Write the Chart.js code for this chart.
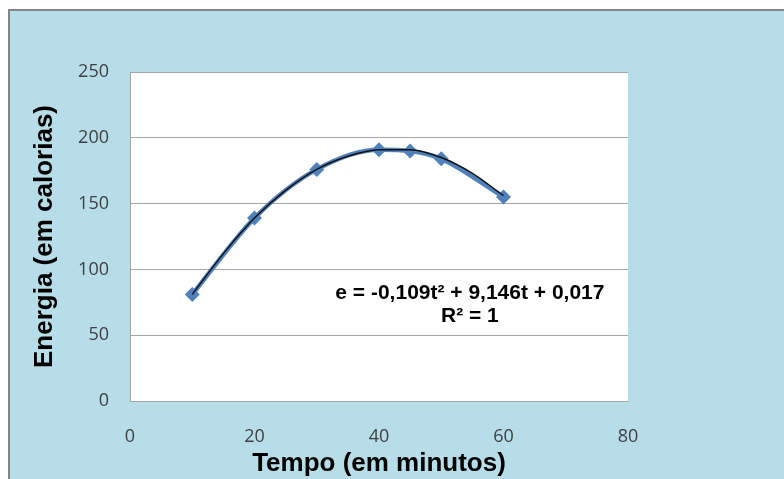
<!DOCTYPE html>
<html>
<head>
<meta charset="utf-8">
<script src="https://cdn.jsdelivr.net/npm/chart.js@4"></script>
<style>
  html, body { margin: 0; padding: 0; background: #ffffff; }
  #wrap { width: 784px; height: 479px; }
</style>
</head>
<body>
<div id="wrap"><canvas id="energy-graph" width="784" height="479"></canvas></div>
<script>
const energyGraph = document.querySelector("#energy-graph");

// measured points (tempo in minutes, energia in calories)
const tempo = [10, 20, 30, 40, 45, 50, 60];
const energia = [81, 139, 176, 191, 190, 184, 155];

// polynomial trendline
const trendTempo = [10, 15, 20, 25, 30, 35, 40, 45, 50, 55, 60];
const trendEnergia = [81, 112, 139, 160, 176, 186, 191, 191, 185, 173, 156];

const xTicks = [0, 20, 40, 60, 80];
const yTicks = [0, 50, 100, 150, 200, 250];

const equationLines = ["e = -0,109t² + 9,146t + 0,017", "R² = 1"];

const blue = "#4f81bd";
const gridGray = "#a6a6a6";
const tickColor = "#404040";

const frame = {
  id: "frame",
  beforeDraw(chart) {
    const ctx = chart.ctx;
    ctx.save();
    ctx.fillStyle = "#b7dde8";
    ctx.fillRect(10, 11, chart.width - 10, chart.height - 11);
    ctx.strokeStyle = "#858585";
    ctx.lineWidth = 2;
    ctx.beginPath();
    ctx.moveTo(9, chart.height);
    ctx.lineTo(9, 10);
    ctx.lineTo(chart.width, 10);
    ctx.stroke();
    const a = chart.chartArea;
    ctx.fillStyle = "#ffffff";
    ctx.fillRect(a.left, a.top, a.right - a.left, a.bottom - a.top);
    ctx.restore();
  },
  afterDraw(chart) {
    const ctx = chart.ctx;
    const x = chart.scales.x.getPixelForValue(54.6);
    const y = chart.scales.y.getPixelForValue(82);
    ctx.save();
    ctx.fillStyle = "#000000";
    ctx.font = "bold 21px 'Liberation Sans', Arial, sans-serif";
    ctx.textAlign = "center";
    ctx.textBaseline = "middle";
    equationLines.forEach((line, i) => {
      ctx.fillText(line, x, y + i * 23);
    });
    ctx.restore();
  },
};

const energyData = {
  datasets: [
    {
      label: "Tendência",
      data: trendTempo.map((t, i) => ({ x: t, y: trendEnergia[i] })),
      borderColor: "#111111",
      borderWidth: 1.5,
      pointRadius: 0,
      cubicInterpolationMode: "monotone",
      order: 0,
    },
    {
      label: "Energia",
      data: tempo.map((t, i) => ({ x: t, y: energia[i] })),
      borderColor: blue,
      backgroundColor: blue,
      borderWidth: 4.5,
      pointStyle: "rectRot",
      pointRadius: 7.5,
      pointBorderWidth: 0,
      cubicInterpolationMode: "monotone",
      order: 1,
    },
  ],
};

const energyChart = new Chart(energyGraph, {
  type: "line",
  data: energyData,
  plugins: [frame],
  options: {
    responsive: false,
    animation: false,
    events: [],
    layout: { padding: { left: 10, top: 72, right: 156, bottom: 0 } },
    plugins: {
      legend: { display: false },
      tooltip: { enabled: false },
    },
    scales: {
      x: {
        type: "linear",
        min: 0,
        max: 80,
        afterBuildTicks: (scale) => {
          scale.ticks = xTicks.map((v) => ({ value: v }));
        },
        afterFit: (scale) => {
          scale.height = 78;
        },
        grid: { display: false, drawTicks: false },
        border: { display: true, color: gridGray, width: 1 },
        ticks: {
          padding: 25,
          color: tickColor,
          font: { family: "'Open Sans', sans-serif", size: 18 },
        },
        title: {
          display: true,
          text: "Tempo (em minutos)",
          color: "#000000",
          padding: 0,
          font: { family: "'Liberation Sans', Arial, sans-serif", size: 26, weight: "bold" },
        },
      },
      y: {
        min: 0,
        max: 250,
        afterBuildTicks: (scale) => {
          scale.ticks = yTicks.map((v) => ({ value: v }));
        },
        afterFit: (scale) => {
          scale.width = 120;
        },
        grid: { color: gridGray, lineWidth: 1, drawTicks: false },
        border: { display: true, color: gridGray, width: 1 },
        ticks: {
          padding: 21,
          color: tickColor,
          font: { family: "'Open Sans', sans-serif", size: 18 },
        },
        title: {
          display: true,
          text: "Energia (em calorias)",
          color: "#000000",
          padding: { top: 19, bottom: 0 },
          font: { family: "'Liberation Sans', Arial, sans-serif", size: 26, weight: "bold" },
        },
      },
    },
  },
});
</script>
</body>
</html>
